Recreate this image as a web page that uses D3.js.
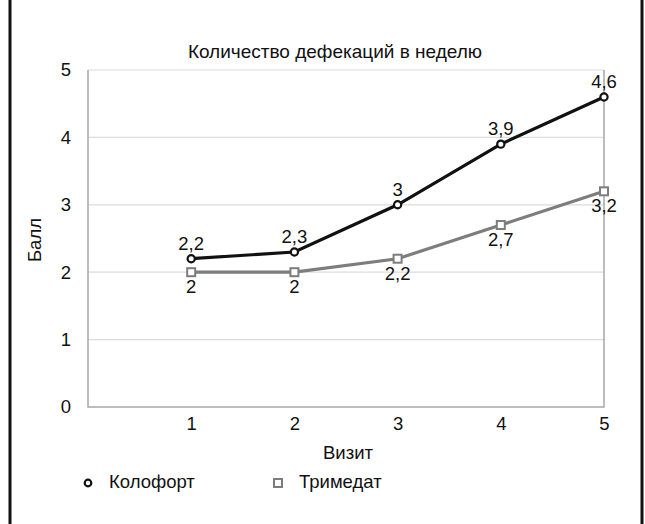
<!DOCTYPE html>
<html lang="ru">
<head>
  <meta charset="UTF-8">
  <title>Количество дефекаций в неделю</title>
  <script src="https://d3js.org/d3.v7.min.js"></script>
  <style>
    body { margin: 0; padding: 0; background: #fff; }
    svg { display: block; font-family: "Liberation Sans", Arial, sans-serif; }
  </style>
</head>
<body>
  <div id="chart"></div>
  <script>
    const visits = [1, 2, 3, 4, 5];
    const kolofort = [2.2, 2.3, 3, 3.9, 4.6];
    const trimedat = [2, 2, 2.2, 2.7, 3.2];
    const yTicks = [0, 1, 2, 3, 4, 5];
    const seriesNames = ["Колофорт", "Тримедат"];

    const W = 645, H = 524;
    const plot = { left: 88, right: 604, top: 70, bottom: 407 };
    const fs = 18.5;

    const svg = d3.select("#chart").append("svg")
      .attr("width", W).attr("height", H);

    // frame edges
    svg.append("line").attr("x1", 10).attr("x2", 10).attr("y1", 0).attr("y2", H)
      .attr("stroke", "#111").attr("stroke-width", 3);
    svg.append("line").attr("x1", 642).attr("x2", 642).attr("y1", 0).attr("y2", H)
      .attr("stroke", "#111").attr("stroke-width", 3);

    const x = d3.scaleLinear().domain([0, 5]).range([plot.left, plot.right]);
    const y = d3.scaleLinear().domain([0, 5]).range([plot.bottom, plot.top]);

    // grid
    svg.append("g")
      .selectAll("line")
      .data(yTicks.filter(d => d > 0))
      .join("line")
      .attr("x1", plot.left).attr("x2", plot.right)
      .attr("y1", d => y(d)).attr("y2", d => y(d))
      .attr("stroke", "#dcdcdc").attr("stroke-width", 1.2);

    // plot frame
    svg.append("path")
      .attr("d", `M${plot.left},${plot.top}V${plot.bottom}H${plot.right}V${plot.top}`)
      .attr("fill", "none").attr("stroke", "#a8a8a8").attr("stroke-width", 1.5);

    // y axis
    const yAxis = svg.append("g")
      .attr("transform", `translate(${plot.left},0)`)
      .call(d3.axisLeft(y).tickValues(yTicks).tickFormat(d3.format("d")).tickSize(0).tickPadding(17));
    yAxis.select(".domain").remove();
    yAxis.selectAll("text").attr("font-size", fs).attr("fill", "#111")
      .attr("font-family", "Liberation Sans, Arial, sans-serif");

    // x axis
    const xAxis = svg.append("g")
      .attr("transform", `translate(0,${plot.bottom})`)
      .call(d3.axisBottom(x).tickValues(visits).tickFormat(d3.format("d")).tickSize(0).tickPadding(10));
    xAxis.select(".domain").remove();
    xAxis.selectAll("text").attr("font-size", fs).attr("fill", "#111")
      .attr("font-family", "Liberation Sans, Arial, sans-serif");

    // titles
    svg.append("text").attr("x", 335).attr("y", 58).attr("text-anchor", "middle")
      .attr("font-size", 19).attr("fill", "#111").text("Количество дефекаций в неделю");
    svg.append("text").attr("transform", "translate(41,240) rotate(-90)")
      .attr("text-anchor", "middle").attr("font-size", fs).attr("fill", "#111").text("Балл");
    svg.append("text").attr("x", 348).attr("y", 459).attr("text-anchor", "middle")
      .attr("font-size", fs).attr("fill", "#111").text("Визит");

    const fmt = v => String(v).replace(".", ",");
    const line = d3.line().x((d, i) => x(visits[i])).y(d => y(d));

    // Тримедат
    svg.append("path").datum(trimedat).attr("d", line)
      .attr("fill", "none").attr("stroke", "#7d7d7d").attr("stroke-width", 3.2);
    svg.append("g").selectAll("rect").data(trimedat).join("rect")
      .attr("x", (d, i) => x(visits[i]) - 4).attr("y", d => y(d) - 4)
      .attr("width", 8).attr("height", 8)
      .attr("fill", "#fff").attr("stroke", "#7d7d7d").attr("stroke-width", 2);
    svg.append("g").selectAll("text").data(trimedat).join("text")
      .attr("x", (d, i) => x(visits[i])).attr("y", d => y(d) + 21)
      .attr("text-anchor", "middle").attr("font-size", fs).attr("fill", "#111")
      .text(fmt);

    // Колофорт
    svg.append("path").datum(kolofort).attr("d", line)
      .attr("fill", "none").attr("stroke", "#111").attr("stroke-width", 3.2);
    svg.append("g").selectAll("circle").data(kolofort).join("circle")
      .attr("cx", (d, i) => x(visits[i])).attr("cy", d => y(d)).attr("r", 3.6)
      .attr("fill", "#fff").attr("stroke", "#111").attr("stroke-width", 2.2);
    svg.append("g").selectAll("text").data(kolofort).join("text")
      .attr("x", (d, i) => x(visits[i])).attr("y", d => y(d) - 9)
      .attr("text-anchor", "middle").attr("font-size", fs).attr("fill", "#111")
      .text(fmt);

    // legend
    const legend = svg.append("g");
    legend.append("circle").attr("cx", 88).attr("cy", 483).attr("r", 3.3)
      .attr("fill", "#fff").attr("stroke", "#111").attr("stroke-width", 2.2);
    legend.append("text").attr("x", 109).attr("y", 488).attr("font-size", fs)
      .attr("fill", "#111").text(seriesNames[0]);
    legend.append("rect").attr("x", 274).attr("y", 479).attr("width", 8).attr("height", 8)
      .attr("fill", "#fff").attr("stroke", "#7d7d7d").attr("stroke-width", 2);
    legend.append("text").attr("x", 299).attr("y", 488).attr("font-size", fs)
      .attr("fill", "#111").text(seriesNames[1]);
  </script>
</body>
</html>
